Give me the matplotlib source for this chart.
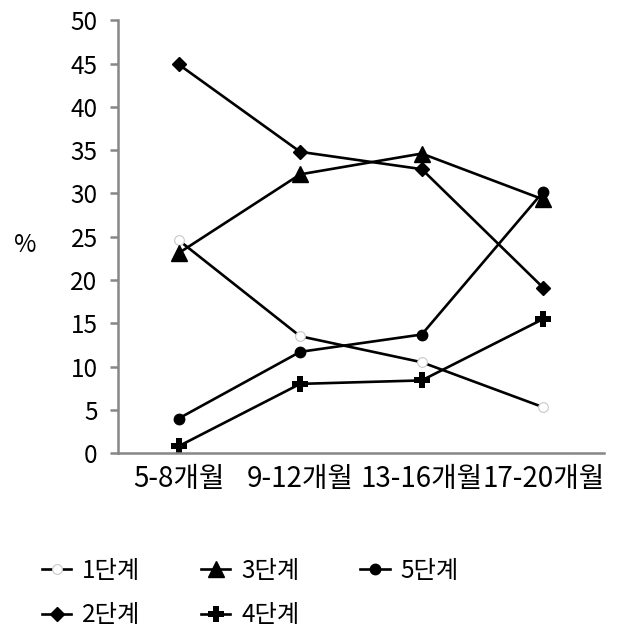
import matplotlib
matplotlib.use('Agg')
import matplotlib.pyplot as plt

plt.rcParams['font.family'] = ['Noto Sans CJK KR', 'DejaVu Sans']

periods = ['5-8개월', '9-12개월', '13-16개월', '17-20개월']
stage1 = [24.6, 13.5, 10.5, 5.3]
stage2 = [44.9, 34.8, 32.8, 19.1]
stage3 = [23.1, 32.2, 34.6, 29.3]
stage4 = [0.8, 8.0, 8.4, 15.5]
stage5 = [4.0, 11.7, 13.7, 30.2]
yticks = [0, 5, 10, 15, 20, 25, 30, 35, 40, 45, 50]

fig = plt.figure(figsize=(6.17, 6.32), dpi=100)
ax = fig.add_axes([0.191, 0.283, 0.788, 0.685])

x = range(len(periods))
lw = 1.9
ax.plot(x, stage1, color='black', lw=lw, marker='o', ms=7, mfc='white',
        mec='#c8c8c8', mew=0.8, label='1단계')
ax.plot(x, stage2, color='black', lw=lw, marker='D', ms=7.5, label='2단계')
ax.plot(x, stage3, color='black', lw=lw, marker='^', ms=12, label='3단계')
ax.plot(x, stage4, color='black', lw=lw, marker='P', ms=11, mew=0, label='4단계')
ax.plot(x, stage5, color='black', lw=lw, marker='o', ms=7.5, label='5단계')

ax.set_xlim(-0.5, 3.5)
ax.set_ylim(0, 50)
ax.set_xticks(list(x))
ax.set_xticklabels(periods)
ax.set_yticks(yticks)

for side in ['top', 'right']:
    ax.spines[side].set_visible(False)
for side in ['left', 'bottom']:
    ax.spines[side].set_color('#878787')
    ax.spines[side].set_linewidth(1.8)

ax.tick_params(axis='y', direction='out', length=5.5, width=1.8,
               color='#878787', pad=9, labelsize=17.5)
ax.tick_params(axis='x', length=0, pad=8, labelsize=20)

ax.set_ylabel('%', rotation=0, fontsize=17.5, va='center', ha='center')
ax.yaxis.set_label_coords(-0.19, 0.48)

fig.legend(loc='upper left', bbox_to_anchor=(42 / 617, 1 - 558 / 632),
           ncol=3, frameon=False, fontsize=17.5, handlelength=1.2,
           handletextpad=0.45, columnspacing=2.5, labelspacing=0.75,
           borderpad=0, borderaxespad=0)

plt.savefig('out.png', dpi=100)
